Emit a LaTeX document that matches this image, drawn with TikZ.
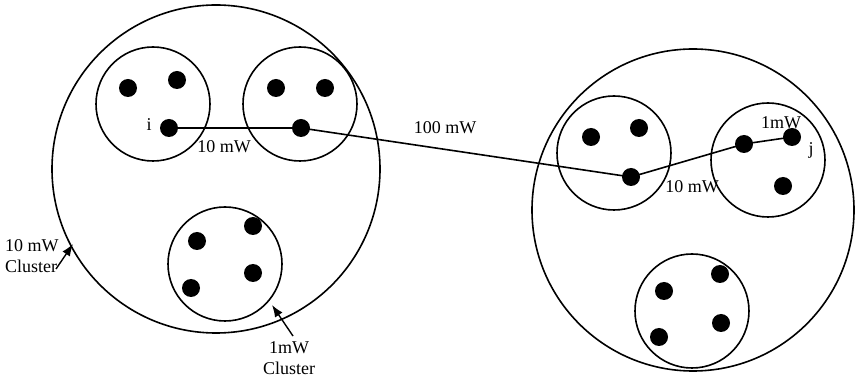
\documentclass[tikz,border=0pt]{standalone}
\usepackage{fontspec}
\setmainfont{Liberation Serif}
\usetikzlibrary{arrows.meta}
\tikzset{
  x=1pt, y=-1pt,
  ring/.style={draw, line width=1.6pt},
  sensor/.style={circle, fill=black, inner sep=0pt, minimum size=18pt},
  link/.style={line width=1.6pt},
  lbl/.style={font=\fontsize{18}{21}\selectfont, inner sep=0pt},
  pointer/.style={line width=1.4pt, -{Latex[length=12pt,width=9pt]}}
}
\begin{document}
\begin{tikzpicture}
\useasboundingbox (0,0) rectangle (855,379);
% large clusters
\draw[ring] (216,169) circle[radius=164];
\draw[ring] (693,210) circle[radius=161];
% small clusters, left
\draw[ring] (153,104) circle[radius=57];
\draw[ring] (300,104) circle[radius=57];
\draw[ring] (225,264) circle[radius=57];
% small clusters, right
\draw[ring] (614,153) circle[radius=57];
\draw[ring] (768,160) circle[radius=57];
\draw[ring] (692,311) circle[radius=57];
% nodes
\node[sensor] (a1) at (128,88) {};
\node[sensor] (a2) at (177,80) {};
\node[sensor] (ni) at (169,128) {};
\node[sensor] (b1) at (276,88) {};
\node[sensor] (b2) at (325,88) {};
\node[sensor] (nb) at (301,128) {};
\node[sensor] (c1) at (197,241) {};
\node[sensor] (c2) at (253,226) {};
\node[sensor] (c3) at (191,288) {};
\node[sensor] (c4) at (253,273) {};
\node[sensor] (d1) at (591,137) {};
\node[sensor] (d2) at (639,128) {};
\node[sensor] (nd) at (631,177) {};
\node[sensor] (ne) at (744,144) {};
\node[sensor] (nj) at (792,137) {};
\node[sensor] (e3) at (783,186) {};
\node[sensor] (f1) at (664,291) {};
\node[sensor] (f2) at (720,274) {};
\node[sensor] (f3) at (659,337) {};
\node[sensor] (f4) at (721,323) {};
% route from i to j
\draw[link] (ni.center) -- (nb.center) -- (nd.center) -- (ne.center) -- (nj.center);
% labels
\node[lbl] (li) at (149,125) {i};
\node[lbl] (lj) at (811,150) {j};
\node[lbl] (p1) at (224,147) {10 mW};
\node[lbl] (p2) at (445,128) {100 mW};
\node[lbl] (p3) at (692,187) {10 mW};
\node[lbl] (p4) at (781,123) {1mW};
\node[lbl, align=left, anchor=west] (big) at (5,256) {10 mW\\Cluster};
\node[lbl, align=center] (small) at (289,358) {1mW\\Cluster};
\coordinate (bigtip) at (73,244);
\coordinate (smalltip) at (272,305);
\draw[pointer] (56,269) -- (bigtip);
\draw[pointer] (293,336) -- (smalltip);
\end{tikzpicture}
\end{document}
